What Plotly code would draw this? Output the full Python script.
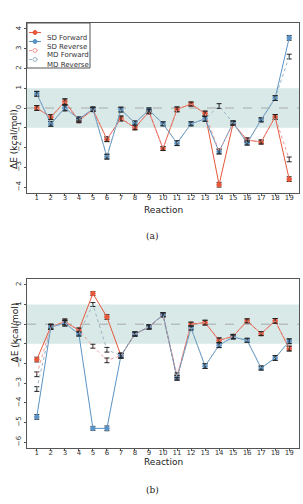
import plotly.graph_objects as go

reactions = list(range(1, 20))

# (a)
a_sd_fwd = [0.0, -0.46, 0.32, -0.64, -0.08, -1.58, -0.53, -1.0, -0.19, -2.05, -0.07, 0.2, -0.28, -3.88, -0.78, -1.62, -1.72, -0.45, -3.6]
a_sd_rev = [0.72, -0.8, 0.0, -0.56, -0.05, -2.46, -0.08, -0.76, -0.1, -0.8, -1.78, -0.8, -0.55, -2.2, -0.75, -1.77, -0.6, 0.5, 3.55]
a_md_fwd = [0.0, -0.46, 0.32, -0.64, -0.08, -1.58, -0.53, -1.0, -0.19, -2.05, -0.07, 0.2, -0.28, -2.2, -0.78, -1.62, -1.72, -0.45, -2.6]
a_md_rev = [0.72, -0.8, 0.0, -0.56, -0.05, -2.46, -0.08, -0.76, -0.1, -0.8, -1.78, -0.8, -0.55, 0.1, -0.75, -1.77, -0.6, 0.5, 2.6]

# (b)
b_sd_fwd = [-1.8, -0.12, 0.12, -0.3, 1.56, 0.37, -1.6, -0.5, -0.14, 0.48, -2.72, 0.0, 0.08, -0.82, -0.62, 0.17, -0.48, 0.17, -1.24]
b_sd_rev = [-4.72, -0.14, 0.05, -0.5, -5.3, -5.3, -1.6, -0.5, -0.14, 0.48, -2.72, -0.19, -2.13, -1.07, -0.65, -0.82, -2.23, -1.72, -0.87]
b_md_fwd = [-2.55, -0.12, 0.12, -0.3, -1.12, -1.84, -1.6, -0.5, -0.14, 0.48, -2.6, 0.0, 0.08, -0.82, -0.62, 0.17, -0.48, 0.17, -1.24]
b_md_rev = [-3.3, -0.14, 0.05, -0.5, 1.0, -1.3, -1.6, -0.5, -0.14, 0.48, -2.72, -0.19, -2.13, -1.07, -0.65, -0.82, -2.23, -1.72, -0.87]

err_sd = [0.12, 0.12, 0.14, 0.1, 0.1, 0.12, 0.12, 0.1, 0.1, 0.1, 0.12, 0.1, 0.12, 0.12, 0.1, 0.1, 0.1, 0.12, 0.12]
err_md = [0.12, 0.12, 0.14, 0.1, 0.1, 0.12, 0.12, 0.1, 0.1, 0.1, 0.12, 0.1, 0.12, 0.12, 0.1, 0.1, 0.1, 0.12, 0.12]

names = ["SD Forward", "SD Reverse", "MD Forward", "MD Reverse"]
colors = ["#e5583c", "#5b93c4", "#f09a9a", "#9ab4c4"]

W, H = 303, 504
fig = go.Figure()

def add_series(vals, idx, xa, ya):
    solid = idx < 2
    fig.add_trace(go.Scatter(
        x=reactions, y=vals, name=names[idx], showlegend=False,
        mode="lines+markers",
        line=dict(color=colors[idx], width=1, dash="solid" if solid else "dot"),
        marker=dict(size=4.5, color=colors[idx] if solid else "rgba(255,255,255,0)",
                    line=dict(color=colors[idx], width=1),
                    symbol="circle" if solid else "circle-open"),
        error_y=dict(type="data", array=err_sd if solid else err_md, color="#222",
                     thickness=1, width=2.5),
        xaxis=xa, yaxis=ya,
    ))

for i, v in enumerate([a_sd_fwd, a_sd_rev, a_md_fwd, a_md_rev]):
    add_series(v, i, "x", "y")
for i, v in enumerate([b_sd_fwd, b_sd_rev, b_md_fwd, b_md_rev]):
    add_series(v, i, "x2", "y2")

xdom = [27/W, 299/W]
ax_common = dict(showgrid=False, zeroline=False, showline=True, mirror=True,
                 linecolor="#555", linewidth=1, ticks="outside", ticklen=2,
                 tickcolor="#555", tickfont=dict(family="DejaVu Sans", size=7, color="#333"))

fig.update_layout(
    width=W, height=H, margin=dict(l=0, r=0, t=0, b=0),
    paper_bgcolor="white", plot_bgcolor="white",
    showlegend=False,
    xaxis=dict(domain=xdom, range=[0.3, 19.7], tickmode="array", tickvals=reactions,
               anchor="y", ticklabelstandoff=-4, **ax_common),
    yaxis=dict(domain=[1-193/H, 1-23/H], range=[-4.3, 4.3], tickmode="array",
               tickvals=[-4, -3, -2, -1, 0, 1, 2, 3, 4], tickangle=-90, anchor="x", **ax_common),
    xaxis2=dict(domain=xdom, range=[0.3, 19.7], tickmode="array", tickvals=reactions,
                anchor="y2", ticklabelstandoff=-4, **ax_common),
    yaxis2=dict(domain=[1-448/H, 1-279/H], range=[-6.3, 2.3], tickmode="array",
                tickvals=[-6, -5, -4, -3, -2, -1, 0, 1, 2], tickangle=-90, anchor="x2", **ax_common),
)

for xr, yr in [("x", "y"), ("x2", "y2")]:
    fig.add_shape(type="rect", xref=xr + " domain", yref=yr, x0=0, x1=1, y0=-1, y1=1,
                  fillcolor="#d9e9e8", line=dict(width=0), layer="below")
    fig.add_shape(type="line", xref=xr + " domain", yref=yr, x0=0, x1=1, y0=0, y1=0,
                  line=dict(color="#999", width=0.8, dash="dash"), layer="below")

# manual compact legend (top-left of panel a)
def px(x): return x / W
def py(y): return 1 - y / H
fig.add_shape(type="rect", xref="paper", yref="paper", x0=px(27), x1=px(90), y0=py(68), y1=py(23),
              fillcolor="white", line=dict(color="#555", width=1), layer="above")
ann = []
for k, yy in enumerate([32.5, 41.5, 50.5, 59.5]):
    solid = k < 2
    fig.add_shape(type="line", xref="paper", yref="paper", x0=px(29), x1=px(41), y0=py(yy), y1=py(yy),
                  line=dict(color=colors[k], width=1, dash="solid" if solid else "dot"), layer="above")
    fig.add_shape(type="circle", xref="paper", yref="paper", x0=px(33), x1=px(37),
                  y0=py(yy + 2), y1=py(yy - 2),
                  fillcolor=colors[k] if solid else "white",
                  line=dict(color=colors[k], width=1), layer="above")
    ann.append(dict(text=names[k], x=px(46), y=py(yy), xref="paper", yref="paper", xanchor="left",
                    borderpad=0, showarrow=False, font=dict(family="DejaVu Sans", size=7, color="#333")))

for yc, ytit in [((23+193)/2, 210), ((279+448)/2, 468)]:
    ann.append(dict(text="ΔE (kcal/mol)", x=px(8), y=py(yc), xref="paper", yref="paper",
                    showarrow=False, textangle=-90, borderpad=0,
                    font=dict(family="DejaVu Sans", size=9, color="#222")))
    ann.append(dict(text="Reaction", x=px(163), y=py(ytit), xref="paper", yref="paper",
                    showarrow=False, borderpad=0, font=dict(family="DejaVu Sans", size=9, color="#222")))
ann.append(dict(text="(a)", x=px(152), y=py(236), xref="paper", yref="paper",
                showarrow=False, font=dict(family="DejaVu Serif", size=9, color="#222")))
ann.append(dict(text="(b)", x=px(152), y=py(497), xref="paper", yref="paper",
                showarrow=False, font=dict(family="DejaVu Serif", size=9, color="#222")))
fig.update_layout(annotations=ann)

fig.write_html("out.html")
